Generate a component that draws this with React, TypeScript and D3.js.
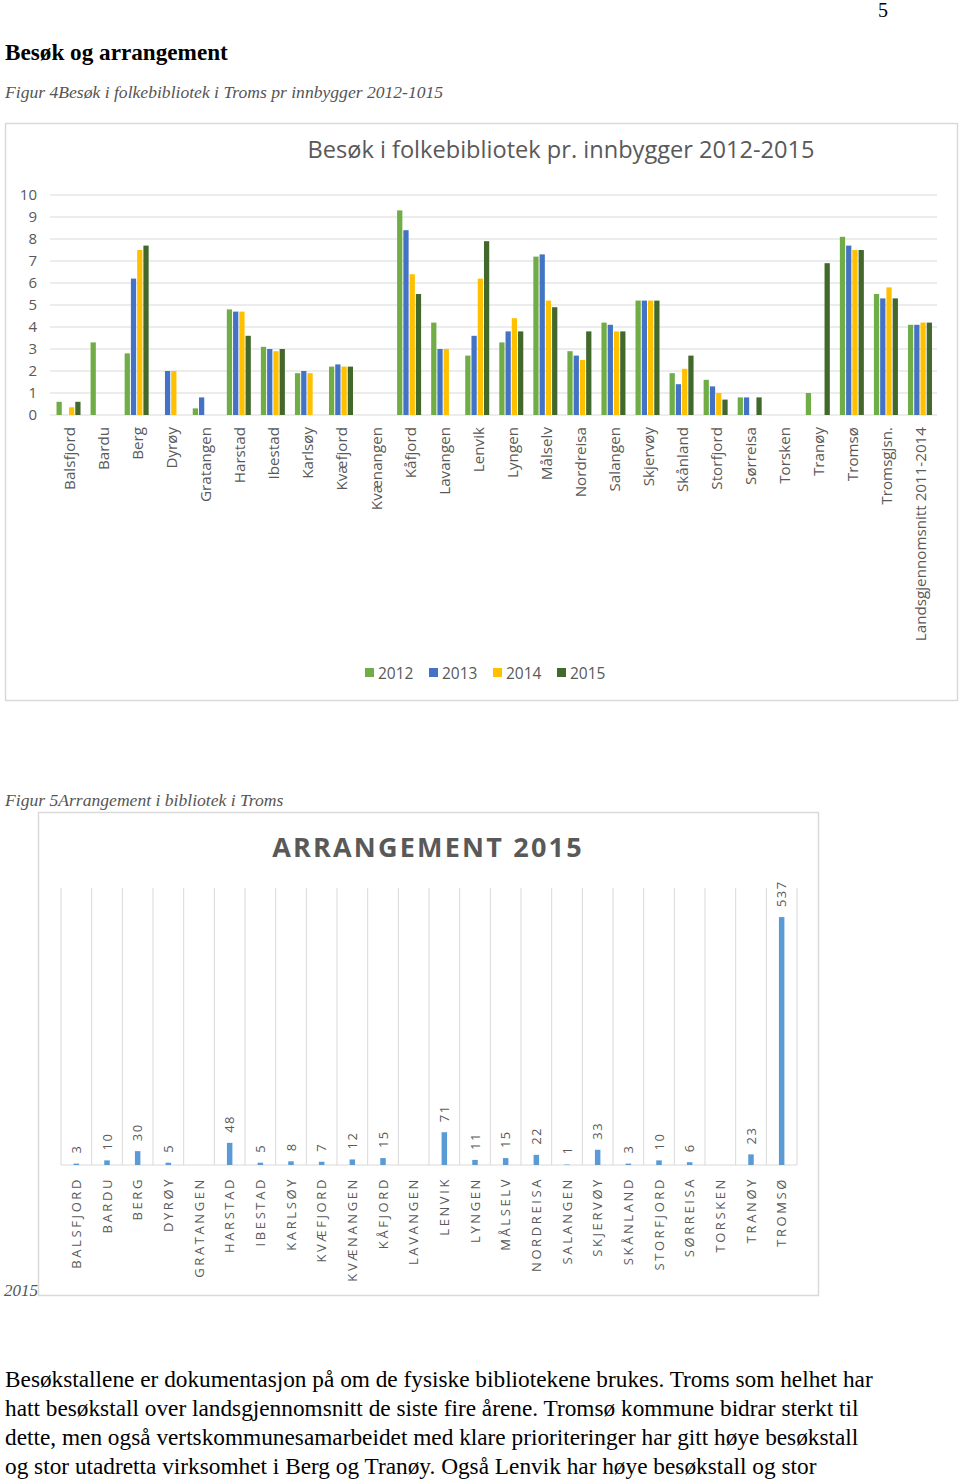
import React from "react";
import * as d3 from "d3";

const categories1 = ["Balsfjord","Bardu","Berg","Dyrøy","Gratangen","Harstad","Ibestad","Karlsøy","Kvæfjord","Kvænangen","Kåfjord","Lavangen","Lenvik","Lyngen","Målselv","Nordreisa","Salangen","Skjervøy","Skånland","Storfjord","Sørreisa","Torsken","Tranøy","Tromsø","Tromsgjsn.","Landsgjennomsnitt 2011-2014"];
const years = ["2012","2013","2014","2015"];
const v2012 = [0.6,3.3,2.8,0,0.3,4.8,3.1,1.9,2.2,0,9.3,4.2,2.7,3.3,7.2,2.9,4.2,5.2,1.9,1.6,0.8,0,1.0,8.1,5.5,4.1];
const v2013 = [0,0,6.2,2.0,0.8,4.7,3.0,2.0,2.3,0,8.4,3.0,3.6,3.8,7.3,2.7,4.1,5.2,1.4,1.3,0.8,0,0,7.7,5.3,4.1];
const v2014 = [0.35,0,7.5,2.0,0,4.7,2.9,1.9,2.2,0,6.4,3.0,6.2,4.4,5.2,2.5,3.8,5.2,2.1,1.0,0,0,0,7.5,5.8,4.2];
const v2015 = [0.6,0,7.7,0,0,3.6,3.0,0,2.2,0,5.5,0,7.9,3.8,4.9,3.8,3.8,5.2,2.7,0.7,0.8,0,6.9,7.5,5.3,4.2];
const yTicks1 = [0,1,2,3,4,5,6,7,8,9,10];
const seriesColors = ["#70AD47","#4472C4","#FFC000","#43682B"];

const categories2 = ["BALSFJORD","BARDU","BERG","DYRØY","GRATANGEN","HARSTAD","IBESTAD","KARLSØY","KVÆFJORD","KVÆNANGEN","KÅFJORD","LAVANGEN","LENVIK","LYNGEN","MÅLSELV","NORDREISA","SALANGEN","SKJERVØY","SKÅNLAND","STORFJORD","SØRREISA","TORSKEN","TRANØY","TROMSØ"];
const arr2015: (number | null)[] = [3,10,30,5,null,48,5,8,7,12,15,null,71,11,15,22,1,33,3,10,6,null,23,537];

const paragraph = [
  "Besøkstallene er dokumentasjon på om de fysiske bibliotekene brukes. Troms som helhet har",
  "hatt besøkstall over landsgjennomsnitt de siste fire årene. Tromsø kommune bidrar sterkt til",
  "dette, men også vertskommunesamarbeidet med klare prioriteringer har gitt høye besøkstall",
  "og stor utadretta virksomhet i Berg og Tranøy. Også Lenvik har høye besøkstall og stor",
];

const GRAY = "#595959";
const GRID = "#d9d9d9";
const SANS = "'Open Sans', sans-serif";
const SERIF = "'Liberation Serif', 'Times New Roman', serif";

export default function App() {
  const series = [v2012, v2013, v2014, v2015];
  // Chart 1
  const x1 = d3.scaleBand<string>().domain(categories1).range([51.5, 937]);
  const xs = d3.scaleBand<string>().domain(years).range([0, 24]).paddingInner(0.16);
  const y1 = d3.scaleLinear().domain([0, 10]).range([415, 195]);
  const groupOffset = (x1.bandwidth() - 24) / 2;

  // Chart 2
  const x2 = d3.scaleBand<string>().domain(categories2).range([61, 797]);
  const y2 = d3.scaleLinear().domain([0, 600]).range([1165, 888]);
  const bw2 = 5.5;

  const legendX = [365, 429, 493, 557];

  return (
    <svg width={960} height={1481} style={{ position: "absolute", left: 0, top: 0, background: "#fff" }}>
      <rect x={0} y={0} width={960} height={1481} fill="#fff" />
      {/* page header */}
      <text x={878} y={17} fontFamily={SERIF} fontSize={20} fill="#000">5</text>
      <text x={5} y={60} fontFamily={SERIF} fontSize={23.2} fontWeight="bold" fill="#000">Besøk og arrangement</text>
      <text x={5} y={98} fontFamily={SERIF} fontSize={17.6} fontStyle="italic" fill="#555">Figur 4Besøk i folkebibliotek i Troms pr innbygger 2012-1015</text>

      {/* Chart 1 box */}
      <rect x={5.5} y={123.5} width={952} height={577} fill="#fff" stroke={GRID} strokeWidth={1.5} />
      <text x={561} y={158} textAnchor="middle" fontFamily={SANS} fontSize={23.6} fill={GRAY}>Besøk i folkebibliotek pr. innbygger 2012-2015</text>
      {yTicks1.map((t) => (
        <g key={t}>
          <line x1={50} x2={937} y1={y1(t)} y2={y1(t)} stroke={GRID} strokeWidth={1} />
          <text x={37} y={y1(t)} dy="0.36em" textAnchor="end" fontFamily={SANS} fontSize={15} fill={GRAY}>{t}</text>
        </g>
      ))}
      {categories1.map((c, i) => (
        <g key={c} transform={`translate(${(x1(c) as number) + groupOffset},0)`}>
          {series.map((s, k) =>
            s[i] > 0 ? (
              <rect key={k} x={xs(years[k]) as number} width={xs.bandwidth()} y={y1(s[i])} height={y1(0) - y1(s[i])} fill={seriesColors[k]} />
            ) : null
          )}
        </g>
      ))}
      {categories1.map((c) => {
        const cx = (x1(c) as number) + x1.bandwidth() / 2 + 1;
        return (
          <text key={c} transform={`translate(${cx},427) rotate(-90)`} dy="0.36em" textAnchor="end" fontFamily={SANS} fontSize={15.2} fill={GRAY}>{c}</text>
        );
      })}
      {years.map((yr, k) => (
        <g key={yr}>
          <rect x={legendX[k]} y={668} width={9} height={9} fill={seriesColors[k]} />
          <text x={legendX[k] + 13} y={673} dy="0.36em" fontFamily={SANS} fontSize={15.5} fill={GRAY}>{yr}</text>
        </g>
      ))}

      {/* Chart 2 */}
      <text x={5} y={806} fontFamily={SERIF} fontSize={17.6} fontStyle="italic" fill="#555">Figur 5Arrangement i bibliotek i Troms</text>
      <rect x={38.5} y={812.5} width={780} height={483} fill="#fff" stroke={GRID} strokeWidth={1.5} />
      <text x={428} y={857} textAnchor="middle" fontFamily={SANS} fontSize={27} fontWeight="bold" letterSpacing={2.2} fill={GRAY}>ARRANGEMENT 2015</text>
      {[...categories2.map((c) => x2(c) as number), 797].map((gx, i) => (
        <line key={i} x1={gx} x2={gx} y1={888} y2={1165} stroke={GRID} strokeWidth={1} />
      ))}
      <line x1={61} x2={797} y1={1165} y2={1165} stroke={GRID} strokeWidth={1} />
      {categories2.map((c, i) => {
        const cx = (x2(c) as number) + x2.bandwidth() / 2;
        const v = arr2015[i];
        return (
          <g key={c}>
            {v !== null && v > 0 ? (
              <rect x={cx - bw2 / 2} width={bw2} y={y2(v)} height={y2(0) - y2(v)} fill="#5B9BD5" />
            ) : null}
            {v !== null ? (
              <text transform={`translate(${cx},${y2(v) - 10}) rotate(-90)`} dy="0.36em" textAnchor="start" fontFamily={SANS} fontSize={13} letterSpacing={1.5} fill={GRAY}>{v}</text>
            ) : null}
            <text transform={`translate(${cx},1177) rotate(-90)`} dy="0.36em" textAnchor="end" fontFamily={SANS} fontSize={13} letterSpacing={2.6} fill={GRAY}>{c}</text>
          </g>
        );
      })}
      <text x={4} y={1296} fontFamily={SERIF} fontSize={17} fontStyle="italic" fill="#555">2015</text>

      {/* paragraph */}
      {paragraph.map((line, i) => (
        <text key={i} x={5} y={1387 + i * 29} fontFamily={SERIF} fontSize={23.3} fill="#000">{line}</text>
      ))}
    </svg>
  );
}
